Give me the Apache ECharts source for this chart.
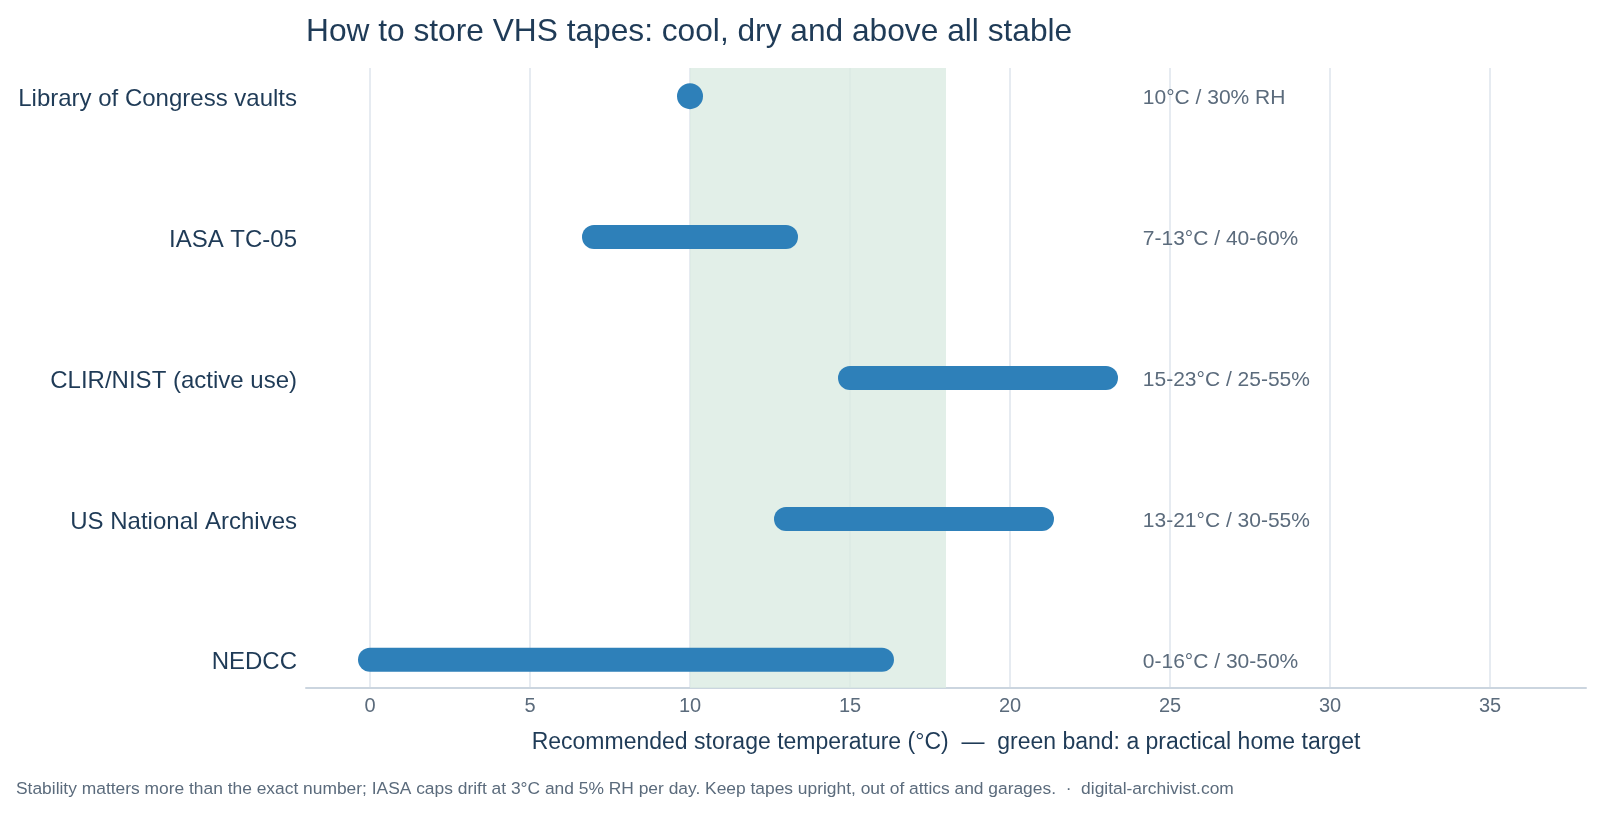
<!DOCTYPE html>
<html lang="en">
<head>
    <meta charset="UTF-8">
    <title>VHS storage</title>
    <script src="https://cdn.jsdelivr.net/npm/echarts@6/dist/echarts.min.js"></script>
    <style>
        html, body { margin: 0; padding: 0; background: #fff; }
        #main { width: 1600px; height: 814px; }
    </style>
</head>
<body>
<div id="main"></div>
<script>
    // data
    var sources = ['Library of Congress vaults', 'IASA TC-05', 'CLIR/NIST (active use)', 'US National Archives', 'NEDCC'];
    var tempLow = [10, 7, 15, 13, 0];
    var tempHigh = [10, 13, 23, 21, 16];
    var notes = ['10°C / 30% RH', '7-13°C / 40-60%', '15-23°C / 25-55%', '13-21°C / 30-55%', '0-16°C / 30-50%'];
    var homeBand = [10, 18];
    var xTicks = [0, 5, 10, 15, 20, 25, 30, 35];
    var noteX = 24.15;

    var ink = '#1f3b57';
    var muted = '#5b6b7c';
    var barColor = '#2e80b9';
    var font = '"Liberation Sans", Arial, sans-serif';

    var rows = [];
    for (var i = 0; i < sources.length; i++) {
        rows.push([tempLow[i], tempHigh[i], i]);
    }
    var noteRows = notes.map(function (n, i) { return [noteX, i, n]; });

    var mychart = echarts.init(document.getElementById('main'));
    mychart.setOption({
        backgroundColor: '#fff',
        animation: false,
        textStyle: { fontFamily: font },
        title: {
            text: 'How to store VHS tapes: cool, dry and above all stable',
            left: 301, top: 11,
            textStyle: { fontSize: 31.7, fontWeight: 'normal', color: ink, fontFamily: font }
        },
        graphic: [{
            type: 'text', left: 16, top: 781,
            style: {
                text: 'Stability matters more than the exact number; IASA caps drift at 3°C and 5% RH per day. Keep tapes upright, out of attics and garages.  ·  digital-archivist.com',
                fill: muted, fontSize: 17.4, fontFamily: font
            }
        }],
        grid: { left: 306, right: 14, top: 68, bottom: 126 },
        xAxis: {
            type: 'value', min: -2, max: 38,
            name: 'Recommended storage temperature (°C)  —  green band: a practical home target',
            nameLocation: 'middle', nameGap: 43,
            nameTextStyle: { fontSize: 23, color: ink, fontFamily: font },
            axisLine: { show: true, onZero: false, lineStyle: { color: '#cbd5df', width: 2 } },
            axisTick: { show: false, customValues: xTicks },
            axisLabel: { customValues: xTicks, fontSize: 20, color: muted, margin: 8, fontFamily: font },
            splitLine: { show: true, lineStyle: { color: '#e6ebf1', width: 2 } }
        },
        yAxis: {
            type: 'value', min: -0.2, max: 4.2, inverse: true,
            axisLine: { show: false },
            axisTick: { show: false, customValues: [0, 1, 2, 3, 4] },
            splitLine: { show: false },
            axisLabel: {
                customValues: [0, 1, 2, 3, 4],
                margin: 9,
                formatter: function (v) { return '{n|' + (sources[Math.round(v)] || '') + '}'; },
                rich: {
                    n: { fontSize: 24, color: ink, fontFamily: font, padding: [6, 0, 0, 0] }
                }
            }
        },
        series: [{
            type: 'custom',
            name: 'band',
            z: 1,
            data: [],
            renderItem: function () { return null; },
            markArea: {
                silent: true,
                itemStyle: { color: 'rgb(219,235,226)', opacity: 0.8 },
                data: [[{ xAxis: homeBand[0] }, { xAxis: homeBand[1] }]]
            }
        }, {
            type: 'custom',
            name: 'range',
            z: 5,
            data: rows,
            encode: { x: [0, 1], y: 2 },
            renderItem: function (params, api) {
                var a = api.coord([api.value(0), api.value(2)]);
                var b = api.coord([api.value(1), api.value(2)]);
                if (api.value(0) === api.value(1)) {
                    return { type: 'circle', shape: { cx: a[0], cy: a[1], r: 13 }, style: { fill: barColor } };
                }
                return {
                    type: 'line',
                    shape: { x1: a[0], y1: a[1], x2: b[0], y2: b[1] },
                    style: { stroke: barColor, lineWidth: 24, lineCap: 'round' }
                };
            }
        }, {
            type: 'custom',
            name: 'notes',
            z: 6,
            data: noteRows,
            encode: { x: 0, y: 1 },
            renderItem: function (params, api) {
                var p = api.coord([api.value(0), api.value(1)]);
                return {
                    type: 'text',
                    x: p[0], y: p[1] + 2,
                    style: {
                        text: notes[params.dataIndex], fill: muted, fontSize: 21, fontFamily: font,
                        align: 'left', verticalAlign: 'middle'
                    }
                };
            }
        }]
    });
</script>
</body>
</html>
